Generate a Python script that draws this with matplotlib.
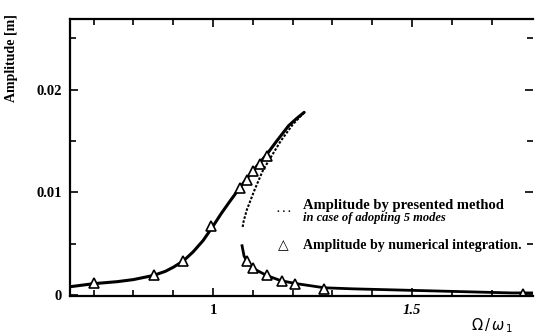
import matplotlib
matplotlib.use("Agg")
import matplotlib.pyplot as plt
from matplotlib.ticker import FixedLocator

plt.rcParams['font.family'] = ['Liberation Serif', 'DejaVu Serif']

# Upper stable branch (solid line)
upper_x = [0.64, 0.70, 0.76, 0.80, 0.85, 0.88, 0.90, 0.925, 0.95, 0.975, 1.0, 1.02, 1.04, 1.07, 1.10, 1.135, 1.16, 1.19, 1.21, 1.229]
upper_y = [0.0008, 0.0011, 0.0013, 0.0015, 0.0019, 0.0023, 0.0027, 0.0033, 0.0042, 0.0053, 0.0067, 0.0079, 0.0090, 0.0106, 0.0121, 0.0137, 0.0150, 0.0165, 0.0172, 0.0178]

# Unstable branch (dotted line)
unst_x = [1.229, 1.20, 1.17, 1.148, 1.126, 1.105, 1.085, 1.077, 1.074]
unst_y = [0.0178, 0.0166, 0.0150, 0.0136, 0.0122, 0.0103, 0.0083, 0.0072, 0.0065]

# Lower stable branch (solid line)
lower_x = [1.073, 1.078, 1.085, 1.10, 1.135, 1.17, 1.21, 1.28, 1.35, 1.45, 1.55, 1.65, 1.75, 1.804]
lower_y = [0.0048, 0.0038, 0.0033, 0.0026, 0.0019, 0.0014, 0.0011, 0.0007, 0.0006, 0.0005, 0.0004, 0.0003, 0.0002, 0.0002]

# Numerical integration (triangles)
tri_x = [0.70, 0.852, 0.925, 0.995, 1.068, 1.085, 1.10, 1.118, 1.135,
         1.085, 1.10, 1.135, 1.173, 1.206, 1.28, 1.78]
tri_y = [0.0012, 0.0019, 0.0033, 0.0067, 0.0104, 0.0112, 0.0121, 0.0128, 0.0135,
         0.0033, 0.0026, 0.0019, 0.0014, 0.0011, 0.0006, 0.0001]

fig = plt.figure(figsize=(5.35, 3.36), dpi=100)
ax = fig.add_axes([70/535, 40/336, 463/535, 277/336])

ax.plot(upper_x, upper_y, color='black', lw=2.2, solid_capstyle='round')
ax.plot(unst_x, unst_y, color='black', lw=1.5, linestyle=(0, (1.2, 0.8)))
ax.plot(lower_x, lower_y, color='black', lw=2.0)
ax.plot(tri_x, tri_y, linestyle='none', marker='^', markersize=7,
        markerfacecolor='white', markeredgecolor='black', markeredgewidth=1.2)

ax.set_xlim(0.6407, 1.804)
ax.set_ylim(-0.0001, 0.0269)

ax.xaxis.set_major_locator(FixedLocator([1.0, 1.5]))
ax.xaxis.set_minor_locator(FixedLocator([0.7, 0.8, 0.9, 1.1, 1.2, 1.3, 1.4, 1.6, 1.7]))
ax.yaxis.set_major_locator(FixedLocator([0, 0.01, 0.02]))
ax.yaxis.set_minor_locator(FixedLocator([0.005, 0.015, 0.025]))
ax.set_xticklabels(['1', '1.5'])
ax.set_yticklabels(['0', '0.01', '0.02'])
for lbl in ax.get_xticklabels():
    lbl.set_fontweight('bold')
    lbl.set_fontsize(10.5)
ax.get_xticklabels()[1].set_fontstyle('italic')
for lbl in ax.get_yticklabels():
    lbl.set_fontweight('bold')
    lbl.set_fontsize(10.5)

ax.tick_params(which='both', direction='in', top=True, right=True, width=1.2)
ax.tick_params(which='major', length=6, pad=6)
ax.tick_params(which='minor', length=4)
ax.spines['right'].set_visible(False)
for s in ['left', 'bottom', 'top']:
    ax.spines[s].set_linewidth(1.6)

fig.text(12/535, 1 - 58/336, 'Amplitude [m]', rotation=90, ha='center', va='center',
         fontsize=10, fontweight='bold')
fig.text(492/535, 1 - 326/336, r'$\Omega\,/\,\omega_{\,1}$', ha='center', va='center', fontsize=10.5,
         fontfamily='DejaVu Serif')

# legend-like annotations
fig.text(277/535, 1 - 209/336, '. . .', ha='left', va='center', fontsize=8, fontweight='bold')
fig.text(303/535, 1 - 205/336, 'Amplitude by presented method', ha='left', va='center',
         fontsize=10.5, fontweight='bold')
fig.text(303/535, 1 - 218/336, 'in case of adopting 5 modes', ha='left', va='center',
         fontsize=9, fontweight='bold', fontstyle='italic')
fig.text(283/535, 1 - 245/336, '\u25b3', ha='center', va='center', fontsize=10,
         fontfamily='DejaVu Sans')
fig.text(303/535, 1 - 245/336, 'Amplitude by numerical integration.', ha='left', va='center',
         fontsize=10, fontweight='bold')

fig.savefig('out.png', dpi=100)
